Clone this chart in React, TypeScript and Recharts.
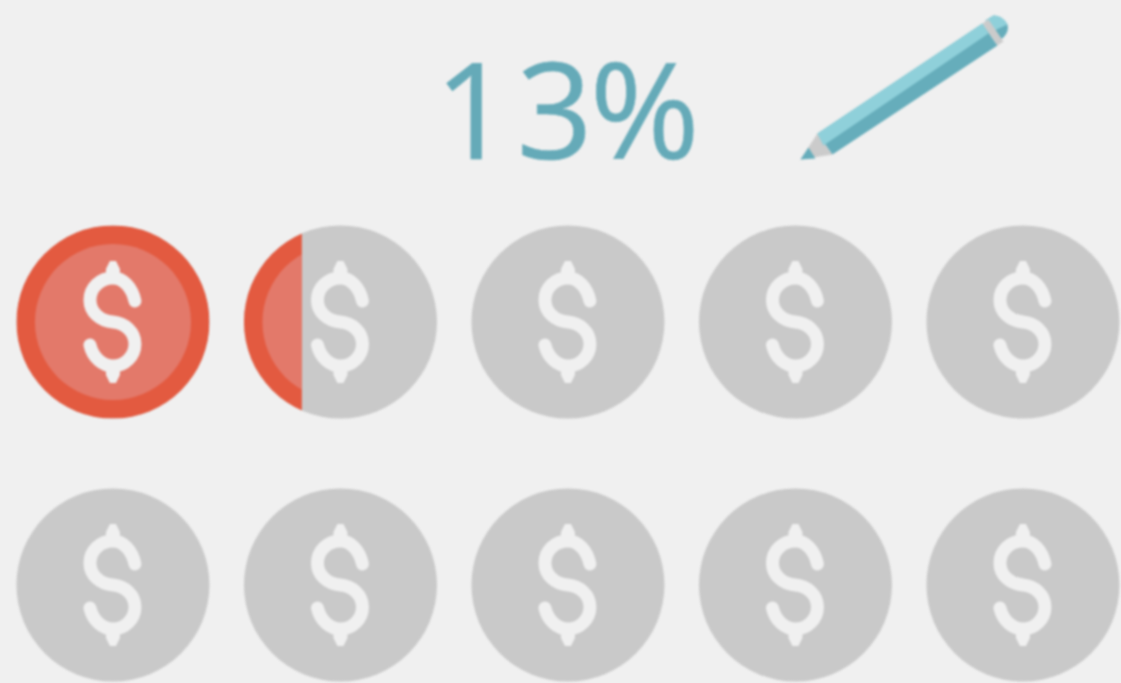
import React from 'react'
import { ScatterChart, Scatter, XAxis, YAxis } from 'recharts'

// one coin = 10%, 13% means 1.3 coins are filled
const percentLabel = '13%'
const coinColumns = [1, 2, 3, 4, 5, 1, 2, 3, 4, 5]
const coinRows = [1, 1, 1, 1, 1, 2, 2, 2, 2, 2]
const coinFill = [1, 0.3, 0, 0, 0, 0, 0, 0, 0, 0]

const headerLabel = [{ col: 3.01, row: 0.2 }]
const pencilMark = [{ col: 4, row: 0.2 }]

const coinData = coinFill.map((fill, i) => ({ col: coinColumns[i], row: coinRows[i], fill }))

const RADIUS = 96.5
const DOLLAR =
  'M22 -21 C19 -35 10 -44 0 -44 C-13 -44 -23 -34 -23 -22 C-23 -10 -13 -1 0 0 C12 1 22 10 22 22 C22 34 12 44 0 44 C-10 44 -20 36 -23 23'
const DOLLAR_STUBS =
  'M-3 -61 L3 -61 L7 -53 L7 -42 L-7 -42 L-7 -53 Z M-3 61 L3 61 L7 53 L7 42 L-7 42 L-7 53 Z'

const Coin = (props: any) => {
  const { cx, cy, payload, index } = props
  const id = `coin-clip-${index}`
  return (
    <g>
      <circle cx={cx} cy={cy} r={RADIUS} fill="#c9c9c9" />
      {payload.fill > 0 && (
        <g clipPath={`url(#${id})`}>
          <clipPath id={id}>
            <rect x={cx - RADIUS} y={cy - RADIUS} width={RADIUS * 2 * payload.fill} height={RADIUS * 2} />
          </clipPath>
          <circle cx={cx} cy={cy} r={RADIUS} fill="#e35a40" />
          <circle cx={cx} cy={cy} r={78} fill="#e3796a" />
        </g>
      )}
      <g transform={`translate(${cx} ${cy})`}>
        <path d={DOLLAR} fill="none" stroke="#f0f0f0" strokeWidth={13} strokeLinecap="round" />
        <path d={DOLLAR_STUBS} fill="#f0f0f0" />
      </g>
    </g>
  )
}

const Pencil = (props: any) => {
  const { cx, cy } = props
  return (
    <g transform={`translate(${cx} ${cy})`}>
      <path d="M5 48 L22 22 L37 43 Z" fill="#cbcbcb" />
      <path d="M5 48 L13 36 L20 47 Z" fill="#66adbb" />
      <path d="M22 22 L187 -88 L202 -66 L37 43 Z" fill="#66adbb" />
      <path d="M22 22 L187 -88 L193 -78 L28 34 Z" fill="#8fd0da" />
      <path d="M190 -91 L198 -96 Q207 -96 212 -87 Q214 -80 208 -74 L203 -71 Z" fill="#66adbb" />
      <path d="M190 -91 L198 -96 Q207 -96 212 -87 L197 -80 Z" fill="#8fd0da" />
      <path d="M187 -88 L193 -92 L208 -70 L202 -66 Z" fill="#cbcbcb" />
    </g>
  )
}

const PercentText = (props: any) => {
  const { cx, cy } = props
  return (
    <text
      x={cx}
      y={cy + 47}
      dx="-3 6 -3"
      textAnchor="middle"
      fontFamily="'Open Sans', sans-serif"
      fontSize={133}
      fill="#65aab8"
      stroke="#65aab8"
      strokeWidth={0.6}
    >
      {percentLabel}
    </text>
  )
}

const App: React.FC = () => {
  return (
    <div
      style={{
        position: 'absolute',
        left: 0,
        top: 0,
        width: 1121,
        height: 683,
        overflow: 'hidden',
        background: '#f0f0f0',
      }}
    >
      <div style={{ filter: 'blur(1px)' }}>
        <ScatterChart width={1121} height={683} margin={{ top: 0, right: 0, bottom: 0, left: 0 }}>
          <XAxis type="number" dataKey="col" domain={[0.5035, 5.431]} hide />
          <YAxis type="number" dataKey="row" domain={[-0.2243, 2.3726]} reversed hide />
          <Scatter data={coinData} shape={<Coin />} isAnimationActive={false} />
          <Scatter data={headerLabel} shape={<PercentText />} isAnimationActive={false} />
          <Scatter data={pencilMark} shape={<Pencil />} isAnimationActive={false} />
        </ScatterChart>
      </div>
    </div>
  )
}

export default App
